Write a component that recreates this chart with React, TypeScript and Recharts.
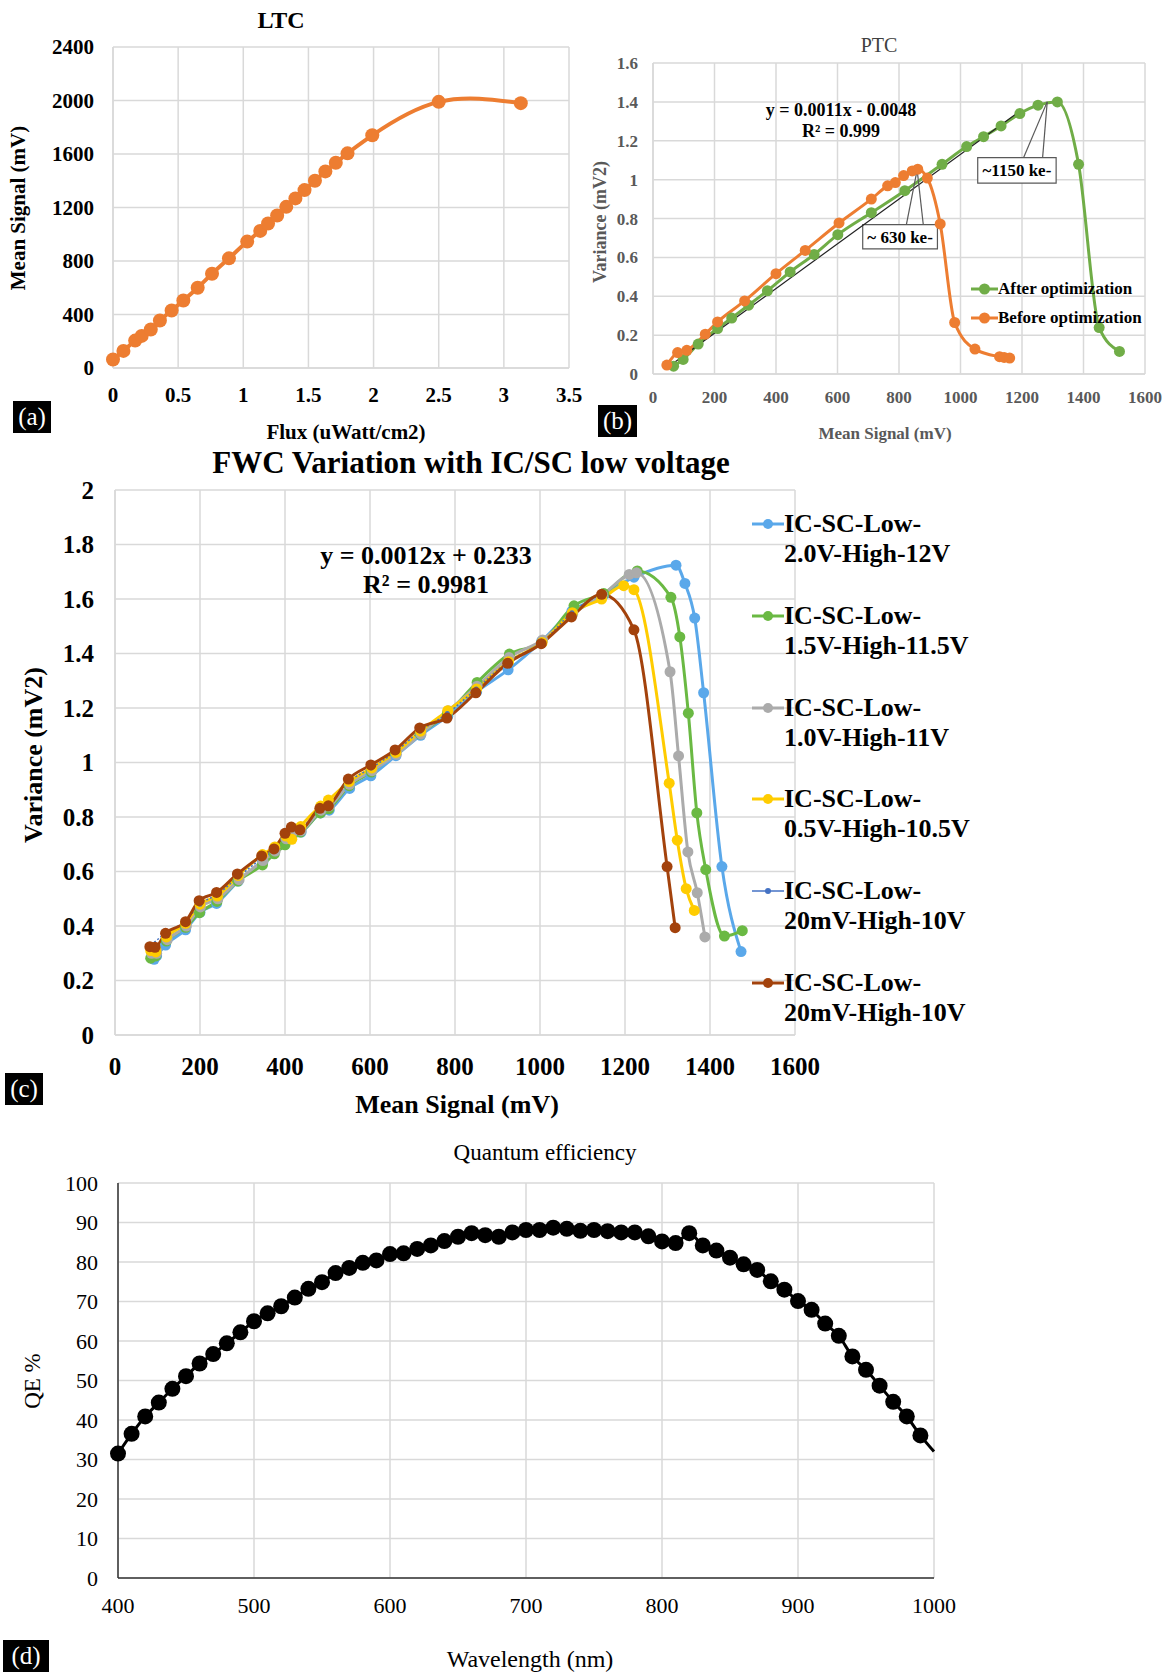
import React from "react";
import {
  LineChart,
  Line,
  XAxis,
  YAxis,
  CartesianGrid,
  ReferenceArea,
  ReferenceLine,
} from "recharts";

const FONT = '"Liberation Serif", "Times New Roman", serif';

// (a) LTC
const ltcFlux = [0, 0.08, 0.17, 0.22, 0.29, 0.36, 0.45, 0.54, 0.65, 0.76, 0.89, 1.03, 1.13, 1.19, 1.26, 1.33, 1.4, 1.47, 1.55, 1.63, 1.71, 1.8, 1.99, 2.5, 3.13];
const ltcSignal = [63, 128, 205, 240, 288, 355, 430, 505, 600, 705, 820, 945, 1025, 1080, 1140, 1205, 1268, 1330, 1400, 1470, 1535, 1605, 1740, 1990, 1980];
const ltcTicksX = [0, 0.5, 1, 1.5, 2, 2.5, 3, 3.5];
const ltcTicksY = [0, 400, 800, 1200, 1600, 2000, 2400];

// (b) PTC
const ptcAfterX = [67, 98, 147, 210, 256, 311, 372, 446, 524, 601, 710, 819, 940, 1020, 1075, 1132, 1193, 1252, 1315, 1384, 1451, 1517];
const ptcAfterY = [0.04, 0.075, 0.154, 0.234, 0.288, 0.354, 0.428, 0.525, 0.615, 0.717, 0.83, 0.943, 1.079, 1.17, 1.221, 1.276, 1.34, 1.383, 1.4, 1.079, 0.239, 0.116];
const ptcBeforeX = [45, 80, 110, 170, 210, 298, 400, 495, 605, 710, 763, 788, 815, 843, 861, 892, 934, 981, 1047, 1127, 1142, 1160];
const ptcBeforeY = [0.046, 0.11, 0.122, 0.205, 0.268, 0.376, 0.516, 0.636, 0.777, 0.9, 0.968, 0.985, 1.021, 1.045, 1.054, 1.008, 0.772, 0.265, 0.128, 0.089, 0.085, 0.082];
const ptcTrendX = [66, 1195];
const ptcTrendY = [0.055, 1.355];
const ptcTicksX = [0, 200, 400, 600, 800, 1000, 1200, 1400, 1600];
const ptcTicksY = [0, 0.2, 0.4, 0.6, 0.8, 1, 1.2, 1.4, 1.6];

// (c) FWC
const fwcBlueX = [92, 98, 119, 166, 200, 239, 290, 348, 374, 402, 418, 438, 484, 504, 552, 602, 661, 719, 783, 851, 925, 1004, 1075, 1150, 1221, 1320, 1341, 1364, 1385, 1428, 1473];
const fwcBlueY = [0.278, 0.29, 0.33, 0.386, 0.45, 0.483, 0.565, 0.635, 0.667, 0.72, 0.735, 0.745, 0.815, 0.825, 0.905, 0.951, 1.025, 1.1, 1.17, 1.26, 1.34, 1.445, 1.555, 1.615, 1.68, 1.724, 1.657, 1.53, 1.256, 0.618, 0.306];
const fwcGreenX = [84, 96, 121, 166, 199, 240, 289, 347, 375, 400, 417, 436, 483, 503, 551, 603, 660, 718, 782, 852, 928, 1004, 1080, 1150, 1229, 1308, 1329, 1349, 1369, 1390, 1434, 1476];
const fwcGreenY = [0.282, 0.29, 0.345, 0.395, 0.449, 0.49, 0.565, 0.624, 0.665, 0.698, 0.74, 0.745, 0.815, 0.83, 0.915, 0.965, 1.035, 1.105, 1.18, 1.294, 1.398, 1.44, 1.575, 1.62, 1.703, 1.606, 1.461, 1.181, 0.815, 0.607, 0.363, 0.383];
const fwcGrayX = [86, 98, 123, 168, 201, 242, 292, 348, 377, 403, 418, 438, 485, 504, 552, 605, 662, 720, 784, 852, 927, 1006, 1077, 1147, 1210, 1227, 1306, 1326, 1348, 1370, 1388];
const fwcGrayY = [0.3, 0.3, 0.35, 0.4, 0.47, 0.5, 0.57, 0.64, 0.675, 0.72, 0.745, 0.75, 0.825, 0.84, 0.92, 0.97, 1.03, 1.105, 1.19, 1.28, 1.385, 1.45, 1.545, 1.615, 1.69, 1.696, 1.333, 1.024, 0.672, 0.522, 0.36];
const fwcYellowX = [84, 96, 121, 166, 200, 241, 290, 347, 376, 402, 416, 437, 484, 502, 551, 604, 661, 719, 783, 851, 926, 1005, 1076, 1145, 1197, 1221, 1304, 1323, 1344, 1363];
const fwcYellowY = [0.31, 0.305, 0.36, 0.41, 0.48, 0.51, 0.585, 0.662, 0.69, 0.73, 0.718, 0.765, 0.84, 0.862, 0.93, 0.98, 1.037, 1.115, 1.19, 1.27, 1.37, 1.44, 1.55, 1.6, 1.649, 1.634, 0.924, 0.715, 0.537, 0.457];
const fwcNavyX = [85, 120, 167, 200, 240, 290, 347, 375, 402, 418, 436, 484, 502, 551, 603, 660, 718, 782, 850, 925, 1004, 1075, 1146];
const fwcNavyY = [0.33, 0.375, 0.42, 0.48, 0.515, 0.58, 0.65, 0.68, 0.735, 0.755, 0.76, 0.83, 0.845, 0.93, 0.98, 1.04, 1.115, 1.18, 1.27, 1.37, 1.44, 1.55, 1.62];
const fwcBrownX = [82, 94, 119, 166, 198, 239, 288, 345, 374, 400, 415, 435, 482, 502, 549, 602, 659, 717, 781, 849, 924, 1003, 1074, 1145, 1221, 1299, 1318];
const fwcBrownY = [0.324, 0.322, 0.373, 0.416, 0.493, 0.523, 0.591, 0.657, 0.683, 0.74, 0.763, 0.753, 0.832, 0.841, 0.939, 0.991, 1.046, 1.127, 1.163, 1.256, 1.364, 1.436, 1.534, 1.617, 1.487, 0.618, 0.394];
const fwcTicksX = [0, 200, 400, 600, 800, 1000, 1200, 1400, 1600];
const fwcTicksY = [0, 0.2, 0.4, 0.6, 0.8, 1, 1.2, 1.4, 1.6, 1.8, 2];
const fwcNames = [
  ["IC-SC-Low-", "2.0V-High-12V"],
  ["IC-SC-Low-", "1.5V-High-11.5V"],
  ["IC-SC-Low-", "1.0V-High-11V"],
  ["IC-SC-Low-", "0.5V-High-10.5V"],
  ["IC-SC-Low-", "20mV-High-10V"],
  ["IC-SC-Low-", "20mV-High-10V"],
];

// (d) Quantum efficiency
const qeWavelength = [400, 410, 420, 430, 440, 450, 460, 470, 480, 490, 500, 510, 520, 530, 540, 550, 560, 570, 580, 590, 600, 610, 620, 630, 640, 650, 660, 670, 680, 690, 700, 710, 720, 730, 740, 750, 760, 770, 780, 790, 800, 810, 820, 830, 840, 850, 860, 870, 880, 890, 900, 910, 920, 930, 940, 950, 960, 970, 980, 990, 1000];
const qeValues = [31.5, 36.5, 40.9, 44.4, 47.9, 51.1, 54.3, 56.7, 59.4, 62.2, 65.0, 67.0, 68.8, 71.0, 73.2, 74.9, 77.2, 78.5, 79.8, 80.4, 82.0, 82.2, 83.3, 84.2, 85.3, 86.4, 87.3, 86.8, 86.4, 87.5, 88.1, 88.1, 88.7, 88.4, 87.9, 88.1, 87.8, 87.5, 87.5, 86.5, 85.2, 84.8, 87.3, 84.2, 82.9, 81.1, 79.4, 78.0, 75.1, 73.0, 70.1, 67.9, 64.4, 61.3, 56.1, 52.7, 48.7, 44.6, 40.9, 36.1, 32.0];
const qeTicksX = [400, 500, 600, 700, 800, 900, 1000];
const qeTicksY = [0, 10, 20, 30, 40, 50, 60, 70, 80, 90, 100];

const pts = (xs: number[], ys: number[]) => xs.map((x, i) => ({ x, y: ys[i] }));

const ORANGE = "#ED7D31";
const GREEN = "#70AD47";
const GRID = "#D9D9D9";

function Txt({ x, y, size, bold, color = "#000", rotate, children }: any) {
  return (
    <div
      style={{
        position: "absolute",
        left: x,
        top: y,
        transform: `translate(-50%, -50%)${rotate ? " rotate(-90deg)" : ""}`,
        fontSize: size,
        fontWeight: bold ? "bold" : "normal",
        color,
        whiteSpace: "nowrap",
        lineHeight: 1,
      }}
    >
      {children}
    </div>
  );
}

function Tag({ x, y, w, h, text }: any) {
  return (
    <div
      style={{
        position: "absolute",
        left: x,
        top: y,
        width: w,
        height: h,
        background: "#000",
        color: "#fff",
        fontSize: 25,
        lineHeight: `${h}px`,
        textAlign: "center",
      }}
    >
      {text}
    </div>
  );
}

function Box({ left, top, width, height, children }: any) {
  return <div style={{ position: "absolute", left, top, width, height }}>{children}</div>;
}

const qeDot = (p: any) =>
  p.payload && p.payload.x >= 1000 ? (
    <g key={`qe-${p.index}`} />
  ) : (
    <circle key={`qe-${p.index}`} cx={p.cx} cy={p.cy} r={8} fill="#000" />
  );

const fwcColors = ["#5AA8EA", "#6AB943", "#ABABAB", "#FFCC00", "#4472C4", "#A3420C"];

export default function App() {
  const tickA = { fontSize: 21, fontWeight: "bold", fill: "#000", fontFamily: FONT };
  const tickB = { fontSize: 17, fontWeight: "bold", fill: "#595959", fontFamily: FONT };
  const tickC = { fontSize: 25, fontWeight: "bold", fill: "#000", fontFamily: FONT };
  const tickD = { fontSize: 22, fill: "#000", fontFamily: FONT };
  const fwcSeries = [
    pts(fwcBlueX, fwcBlueY),
    pts(fwcGreenX, fwcGreenY),
    pts(fwcGrayX, fwcGrayY),
    pts(fwcYellowX, fwcYellowY),
    pts(fwcNavyX, fwcNavyY),
    pts(fwcBrownX, fwcBrownY),
  ];

  return (
    <div
      style={{
        position: "absolute",
        left: 0,
        top: 0,
        width: 1167,
        height: 1672,
        background: "#fff",
        fontFamily: FONT,
        overflow: "hidden",
      }}
    >
      {/* (a) LTC */}
      <Box left={0} top={0} width={600} height={440}>
        <LineChart width={600} height={440} margin={{ top: 47, right: 31, bottom: 42, left: 53 }}>
          <CartesianGrid stroke={GRID} strokeWidth={1.5} />
          <XAxis type="number" dataKey="x" domain={[0, 3.5]} ticks={ltcTicksX} height={30}
            tick={tickA} tickLine={false} tickSize={0} tickMargin={19} axisLine={{ stroke: GRID, strokeWidth: 1.5 }} />
          <YAxis type="number" dataKey="y" domain={[0, 2400]} ticks={ltcTicksY} width={60}
            tick={tickA} tickLine={false} tickSize={0} tickMargin={19} axisLine={{ stroke: GRID, strokeWidth: 1.5 }} />
          <Line data={pts(ltcFlux, ltcSignal)} dataKey="y" type="natural" stroke={ORANGE} strokeWidth={4}
            dot={{ r: 7, fill: ORANGE, stroke: ORANGE, strokeWidth: 0 }} activeDot={false} isAnimationActive={false} />
        </LineChart>
      </Box>
      <Txt x={281} y={20} size={24} bold>LTC</Txt>
      <Txt x={18} y={208} size={21} bold rotate>Mean Signal (mV)</Txt>
      <Txt x={346} y={432} size={21} bold>Flux (uWatt/cm2)</Txt>
      <Tag x={13} y={401} w={38} h={32} text="(a)" />

      {/* (b) PTC */}
      <Box left={580} top={30} width={587} height={420}>
        <LineChart width={587} height={420} margin={{ top: 33, right: 22, bottom: 46, left: 28 }}>
          <CartesianGrid stroke={GRID} strokeWidth={1.5} />
          <XAxis type="number" dataKey="x" domain={[0, 1600]} ticks={ptcTicksX} height={30}
            tick={tickB} tickLine={false} tickSize={0} tickMargin={17} axisLine={{ stroke: GRID, strokeWidth: 1.5 }} />
          <YAxis type="number" dataKey="y" domain={[0, 1.6]} ticks={ptcTicksY} width={45}
            tick={tickB} tickLine={false} tickSize={0} tickMargin={15} axisLine={{ stroke: GRID, strokeWidth: 1.5 }} />
          <Line data={pts(ptcAfterX, ptcAfterY)} dataKey="y" type="monotone" stroke={GREEN} strokeWidth={3}
            dot={{ r: 5.5, fill: GREEN, stroke: GREEN, strokeWidth: 0 }} activeDot={false} isAnimationActive={false} />
          <Line data={pts(ptcBeforeX, ptcBeforeY)} dataKey="y" type="monotone" stroke={ORANGE} strokeWidth={3}
            dot={{ r: 5.5, fill: ORANGE, stroke: ORANGE, strokeWidth: 0 }} activeDot={false} isAnimationActive={false} />
          <Line data={pts(ptcTrendX, ptcTrendY)} dataKey="y" type="linear" stroke="#222" strokeWidth={1.2}
            dot={false} activeDot={false} isAnimationActive={false} />
          <ReferenceLine segment={[{ x: 824, y: 0.768 }, { x: 859, y: 1.05 }]} stroke="#595959" strokeWidth={1.2} />
          <ReferenceLine segment={[{ x: 879, y: 0.768 }, { x: 859, y: 1.05 }]} stroke="#595959" strokeWidth={1.2} />
          <ReferenceLine segment={[{ x: 1205, y: 1.113 }, { x: 1282, y: 1.4 }]} stroke="#595959" strokeWidth={1.2} />
          <ReferenceLine segment={[{ x: 1267, y: 1.113 }, { x: 1282, y: 1.4 }]} stroke="#595959" strokeWidth={1.2} />
          <ReferenceArea x1={682} x2={925} y1={0.644} y2={0.768} fill="#fff" fillOpacity={1} stroke="#595959" strokeWidth={1.2}
            label={{ value: "~ 630 ke-", position: "center", fill: "#000", fontSize: 17, fontWeight: "bold", fontFamily: FONT }} />
          <ReferenceArea x1={1056} x2={1311} y1={0.982} y2={1.113} fill="#fff" fillOpacity={1} stroke="#595959" strokeWidth={1.2}
            label={{ value: "~1150 ke-", position: "center", fill: "#000", fontSize: 17, fontWeight: "bold", fontFamily: FONT }} />
        </LineChart>
      </Box>
      <Txt x={879} y={45} size={20} color="#404040">PTC</Txt>
      <Txt x={600} y={222} size={18} bold color="#595959" rotate>Variance  (mV2)</Txt>
      <Txt x={885} y={433} size={17} bold color="#595959">Mean Signal (mV)</Txt>
      <Txt x={841} y={110} size={18} bold>y = 0.0011x - 0.0048</Txt>
      <Txt x={841} y={131} size={18} bold>R² = 0.999</Txt>
      {[{ c: GREEN, t: "After optimization", y: 289 }, { c: ORANGE, t: "Before optimization", y: 318 }].map((it) => (
        <div key={it.t} style={{ position: "absolute", left: 971, top: it.y - 11, height: 22, display: "flex", alignItems: "center" }}>
          <svg width={27} height={22}>
            <line x1={0} y1={11} x2={27} y2={11} stroke={it.c} strokeWidth={3} />
            <circle cx={13.5} cy={11} r={5.5} fill={it.c} />
          </svg>
          <span style={{ fontSize: 17, fontWeight: "bold", color: "#000", whiteSpace: "nowrap" }}>{it.t}</span>
        </div>
      ))}
      <Tag x={598} y={405} w={39} h={32} text="(b)" />

      {/* (c) FWC */}
      <Box left={0} top={440} width={940} height={680}>
        <LineChart width={940} height={680} margin={{ top: 50, right: 145, bottom: 50, left: 55 }}>
          <CartesianGrid stroke={GRID} strokeWidth={1.5} />
          <XAxis type="number" dataKey="x" domain={[0, 1600]} ticks={fwcTicksX} height={35}
            tick={tickC} tickLine={false} tickSize={0} tickMargin={22} axisLine={{ stroke: GRID, strokeWidth: 1.5 }} />
          <YAxis type="number" dataKey="y" domain={[0, 2]} ticks={fwcTicksY} width={60}
            tick={tickC} tickLine={false} tickSize={0} tickMargin={21} axisLine={{ stroke: GRID, strokeWidth: 1.5 }} />
          {fwcSeries.map((d, i) => (
            <Line key={i} data={d} dataKey="y" type="monotone" stroke={fwcColors[i]}
              strokeWidth={i === 4 ? 1.5 : 3} strokeDasharray={i === 4 ? "2 2" : undefined}
              dot={{ r: i === 4 ? 2.5 : 5.5, fill: fwcColors[i], stroke: fwcColors[i], strokeWidth: 0 }}
              activeDot={false} isAnimationActive={false} />
          ))}
        </LineChart>
      </Box>
      <Txt x={471} y={462} size={31} bold>FWC Variation with IC/SC low voltage</Txt>
      <Txt x={34} y={755} size={26} bold rotate>Variance (mV2)</Txt>
      <Txt x={457} y={1105} size={26} bold>Mean Signal (mV)</Txt>
      <Txt x={426} y={556} size={26} bold>y = 0.0012x + 0.233</Txt>
      <Txt x={426} y={585} size={26} bold>R² = 0.9981</Txt>
      {fwcNames.map((n, i) => (
        <div key={i} style={{ position: "absolute", left: 752, top: 524 + i * 91.8 - 15, display: "flex" }}>
          <svg width={32} height={30}>
            <line x1={0} y1={15} x2={32} y2={15} stroke={fwcColors[i]} strokeWidth={i === 4 ? 1.5 : 3} />
            <circle cx={16} cy={15} r={i === 4 ? 3 : 5} fill={fwcColors[i]} />
          </svg>
          <div style={{ fontSize: 26, fontWeight: "bold", lineHeight: "30px", whiteSpace: "nowrap" }}>
            {n[0]}
            <br />
            {n[1]}
          </div>
        </div>
      ))}
      <Tag x={5} y={1073} w={38} h={32} text="(c)" />

      {/* (d) QE */}
      <Box left={0} top={1120} width={1167} height={552}>
        <LineChart width={1167} height={552} margin={{ top: 63, right: 233, bottom: 59, left: 58 }}>
          <CartesianGrid stroke={GRID} strokeWidth={1.5} />
          <XAxis type="number" dataKey="x" domain={[400, 1000]} ticks={qeTicksX} height={35}
            tick={tickD} tickLine={false} tickSize={0} tickMargin={19} axisLine={{ stroke: "#333", strokeWidth: 1.5 }} />
          <YAxis type="number" dataKey="y" domain={[0, 100]} ticks={qeTicksY} width={60}
            tick={tickD} tickLine={false} tickSize={0} tickMargin={20} axisLine={{ stroke: "#333", strokeWidth: 1.5 }} />
          <Line data={pts(qeWavelength, qeValues)} dataKey="y" type="monotone" stroke="#000" strokeWidth={3}
            dot={qeDot} activeDot={false} isAnimationActive={false} />
        </LineChart>
      </Box>
      <Txt x={545} y={1152} size={23}>Quantum efficiency</Txt>
      <Txt x={32} y={1381} size={23} rotate>QE %</Txt>
      <Txt x={530} y={1659} size={24}>Wavelength (nm)</Txt>
      <Tag x={3} y={1640} w={46} h={32} text="(d)" />
    </div>
  );
}
